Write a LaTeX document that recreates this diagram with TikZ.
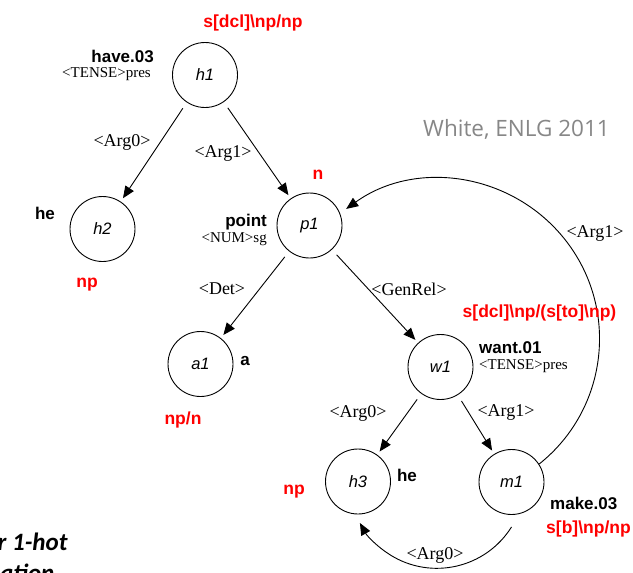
\documentclass[tikz,border=0pt]{standalone}
\usepackage{fontspec}
\setmainfont{Liberation Serif}
\newfontfamily\helv{Liberation Sans}
\newfontfamily\opensans{Open Sans}
\newfontfamily\carlito{Carlito}
\usetikzlibrary{arrows.meta}
\definecolor{catred}{RGB}{255,0,0}
\definecolor{creditgray}{RGB}{135,135,135}

\begin{document}
\begin{tikzpicture}[x=1pt,y=1pt,
  pred/.style={circle, draw, line width=0.9pt, minimum size=65pt, inner sep=0pt,
    font=\helv\itshape\fontsize{16.5}{16.5}\selectfont},
  rel/.style={-{Triangle[length=12pt,width=10pt]}, line width=0.9pt,
    shorten <=7pt, shorten >=4pt},
  arcrel/.style={-{Triangle[length=12pt,width=10pt]}, line width=0.9pt},
  lbl/.style={font=\fontsize{18}{18}\selectfont, inner sep=0pt},
  attr/.style={font=\fontsize{15}{15}\selectfont, inner sep=0pt},
  lex/.style={font=\helv\bfseries\fontsize{17}{17}\selectfont, inner sep=0pt},
  cat/.style={font=\helv\bfseries\fontsize{17.5}{17.5}\selectfont, text=catred, inner sep=0pt},
  credit/.style={font=\opensans\fontsize{22.5}{22.5}\selectfont, text=creditgray, inner sep=0pt},
  slide/.style={font=\carlito\bfseries\itshape\fontsize{25}{25}\selectfont, inner sep=0pt},
]
\useasboundingbox (0,0) rectangle (633,-573);
\clip (0,0) rectangle (633,-573);

% predicate nodes
\node[pred] (h1) at (205,-75) {h1};
\node[pred] (h2) at (102.5,-229) {h2};
\node[pred] (p1) at (309.5,-225.5) {p1};
\node[pred] (a1) at (200.5,-364) {a1};
\node[pred] (w1) at (440.5,-367) {w1};
\node[pred] (h3) at (358,-481.5) {h3};
\node[pred] (m1) at (511.5,-482) {m1};

% relations
\draw[rel] (h1) -- (h2);
\draw[rel] (h1) -- (p1);
\draw[rel] (p1) -- (a1);
\draw[rel] (p1) -- (w1);
\draw[rel] (w1) -- (h3);
\draw[rel] (w1) -- (m1);
\draw[arcrel] (m1.33) arc[start angle=-51.5, end angle=125.7, radius=160];
\draw[arcrel] ([yshift=-12pt]m1.south) arc[start angle=-32, end angle=-151, radius=88];

% relation labels
\node[lbl] (r1) at (122,-142) {<Arg0>};
\node[lbl] (r2) at (223,-153) {<Arg1>};
\node[lbl] (r3) at (222,-289) {<Det>};
\node[lbl] (r4) at (409,-289) {<GenRel>};
\node[lbl] (r5) at (358,-413) {<Arg0>};
\node[lbl] (r6) at (506,-412) {<Arg1>};
\node[lbl] (r7) at (595,-233) {<Arg1>};
\node[lbl] (r8) at (435,-555) {<Arg0>};

% lexical predicates and attributes
\node[lex, anchor=east] (lh1) at (154,-56) {have.03};
\node[attr, anchor=east] (th1) at (151,-74) {<TENSE>pres};
\node[lex] (lh2) at (45,-213) {he};
\node[lex, anchor=east] (lp1) at (267,-222) {point};
\node[attr, anchor=east] (tp1) at (267,-239) {<NUM>sg};
\node[lex] (la1) at (245,-361) {a};
\node[lex, anchor=west] (lw1) at (479,-348) {want.01};
\node[attr, anchor=west] (tw1) at (479,-366) {<TENSE>pres};
\node[lex] (lh3) at (407,-475) {he};
\node[lex, anchor=west] (lm1) at (550,-503) {make.03};

% CCG categories
\node[cat] (ch1) at (253,-23) {s[dcl]\textbackslash np/np};
\node[cat] (cp1) at (318,-175) {n};
\node[cat] (ch2) at (87,-285) {np};
\node[cat] (ca1) at (183,-420) {np/n};
\node[cat] (cw1) at (539.5,-313) {s[dcl]\textbackslash np/(s[to]\textbackslash np)};
\node[cat] (ch3) at (294,-492) {np};
\node[cat, anchor=west] (cm1) at (546,-529) {s[b]\textbackslash np/np};

% credit and slide text
\node[credit] (cite) at (516.5,-129) {White, ENLG 2011};
\node[slide, anchor=base west] (s1) at (-2.5,-550) {r 1-hot};
\node[slide, anchor=base west] (s2) at (0,-581) {ation};
\end{tikzpicture}
\end{document}
